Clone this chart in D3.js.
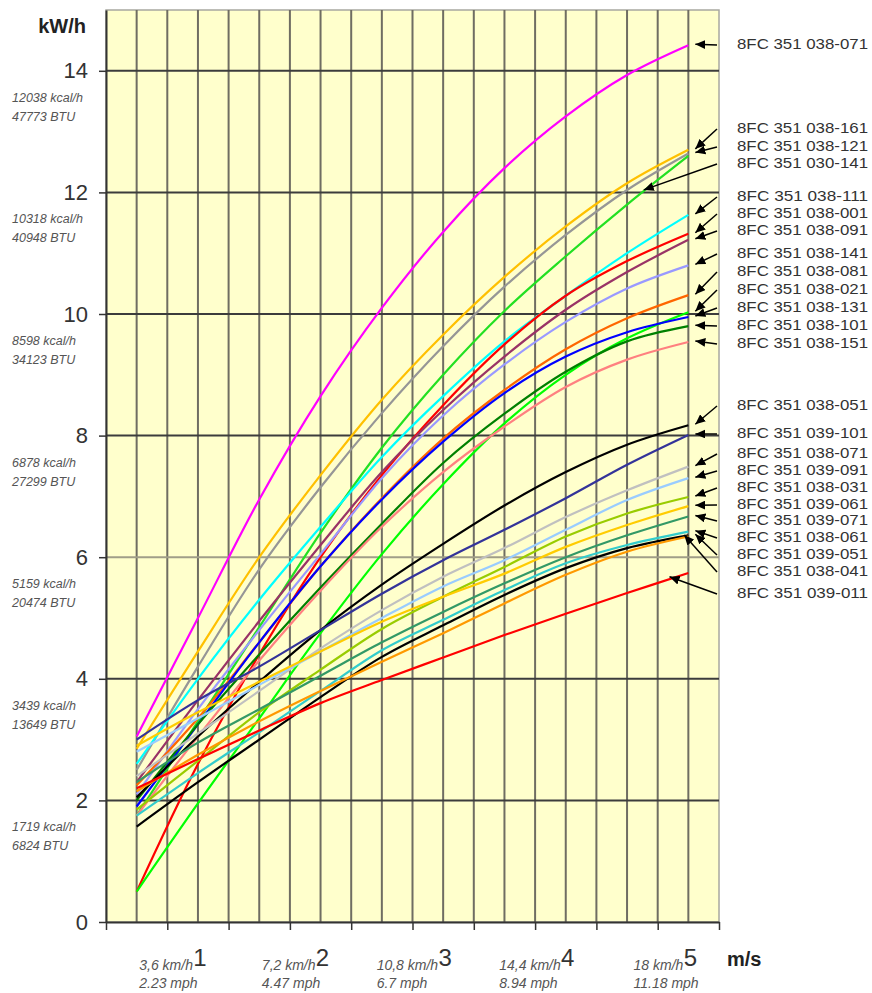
<!DOCTYPE html>
<html>
<head>
<meta charset="utf-8">
<script src="https://cdn.jsdelivr.net/npm/d3@7"></script>
<style>
  body { margin: 0; background: #fff; }
  svg { display: block; font-family: Arial, "Liberation Sans", sans-serif; }
</style>
</head>
<body>
<div id="chart"></div>
<script>
// wind speed (m/s) at which each curve is sampled
const speeds = [0.5, 1, 1.5, 2, 2.5, 3, 3.5, 4, 4.5, 5];

const models = [
  "8FC 351 038-071", "8FC 351 038-161", "8FC 351 038-121", "8FC 351 030-141",
  "8FC 351 038-111", "8FC 351 038-001", "8FC 351 038-091", "8FC 351 038-141",
  "8FC 351 038-081", "8FC 351 038-021", "8FC 351 038-131", "8FC 351 038-101",
  "8FC 351 038-151", "8FC 351 038-051", "8FC 351 039-101", "8FC 351 038-071",
  "8FC 351 039-091", "8FC 351 038-031", "8FC 351 039-061", "8FC 351 039-071",
  "8FC 351 038-061", "8FC 351 039-051", "8FC 351 038-041", "8FC 351 039-011"
];

const colours = [
  "#ff00ff", "#ffc000", "#969696", "#22e022",
  "#00ffff", "#ff0000", "#993366", "#9999ff",
  "#ff6600", "#00ff00", "#0000ff", "#008000",
  "#ff8080", "#000000", "#333399", "#c0c0c0",
  "#99ccff", "#99cc00", "#ffcc00", "#339966",
  "#33cccc", "#000000", "#ff9900", "#ff0000"
];

// kW/h, one row per model, one value per speed
const power = [
  [3.05, 5.0, 6.95, 8.65, 10.1, 11.35, 12.4, 13.25, 13.93, 14.42],
  [2.85, 4.45, 6.0, 7.35, 8.59, 9.66, 10.61, 11.44, 12.15, 12.7],
  [2.5, 4.2, 5.8, 7.15, 8.37, 9.47, 10.45, 11.3, 12.04, 12.64],
  [1.75, 3.3, 4.85, 6.4, 7.8, 9.0, 10.05, 10.95, 11.8, 12.6],
  [2.6, 4.0, 5.3, 6.5, 7.65, 8.65, 9.55, 10.3, 11.0, 11.63],
  [0.5, 2.6, 4.4, 6.0, 7.35, 8.5, 9.5, 10.3, 10.87, 11.32],
  [2.3, 3.65, 4.95, 6.2, 7.4, 8.42, 9.3, 10.07, 10.69, 11.22],
  [2.1, 3.5, 4.8, 6.05, 7.3, 8.33, 9.17, 9.87, 10.42, 10.8],
  [2.25, 3.35, 4.6, 5.85, 6.97, 7.95, 8.75, 9.42, 9.93, 10.31],
  [0.5, 1.95, 3.35, 4.75, 6.05, 7.2, 8.2, 9.0, 9.6, 10.03],
  [1.9, 3.25, 4.6, 5.85, 6.95, 7.9, 8.7, 9.3, 9.7, 9.95],
  [2.0, 3.25, 4.4, 5.5, 6.55, 7.55, 8.36, 9.05, 9.55, 9.8],
  [1.75, 3.05, 4.3, 5.45, 6.5, 7.4, 8.15, 8.8, 9.25, 9.54],
  [2.05, 3.05, 3.95, 4.8, 5.55, 6.22, 6.85, 7.4, 7.85, 8.17],
  [3.0, 3.65, 4.2, 4.8, 5.4, 5.95, 6.45, 6.97, 7.52, 8.01],
  [2.4, 3.1, 3.8, 4.5, 5.13, 5.68, 6.15, 6.66, 7.1, 7.49],
  [2.8, 3.35, 3.9, 4.45, 5.0, 5.52, 5.95, 6.45, 6.94, 7.3],
  [1.85, 2.65, 3.45, 4.15, 4.82, 5.35, 5.84, 6.34, 6.72, 6.99],
  [2.9, 3.45, 3.95, 4.45, 4.94, 5.35, 5.73, 6.17, 6.53, 6.84],
  [2.3, 2.95, 3.5, 4.05, 4.6, 5.1, 5.57, 6.0, 6.36, 6.67],
  [1.75, 2.45, 3.12, 3.8, 4.47, 4.97, 5.46, 5.9, 6.2, 6.42],
  [1.57, 2.3, 3.0, 3.7, 4.36, 4.88, 5.38, 5.82, 6.15, 6.36],
  [2.15, 2.75, 3.3, 3.8, 4.28, 4.75, 5.24, 5.71, 6.09, 6.34],
  [2.2, 2.68, 3.15, 3.6, 3.98, 4.35, 4.72, 5.07, 5.41, 5.74]
];

// speed (m/s) on each curve that its label arrow points at
const arrowAt = [5, 5, 5, 4.62, 5, 5, 5, 5, 5, 5, 5, 5, 5,
                 5, 5, 5, 5, 5, 5, 5, 5, 5, 4.95, 4.83];

const kwTicks = [0, 2, 4, 6, 8, 10, 12, 14];
const kcalLabels = ["", "1719 kcal/h", "3439 kcal/h", "5159 kcal/h", "6878 kcal/h",
                    "8598 kcal/h", "10318 kcal/h", "12038 kcal/h"];
const btuLabels = ["", "6824 BTU", "13649 BTU", "20474 BTU", "27299 BTU",
                   "34123 BTU", "40948 BTU", "47773 BTU"];

const msTicks = [1, 2, 3, 4, 5];
const kmhLabels = ["3,6 km/h", "7,2 km/h", "10,8 km/h", "14,4 km/h", "18 km/h"];
const mphLabels = ["2.23 mph", "4.47 mph", "6.7 mph", "8.94 mph", "11.18 mph"];

// layout: vertical centre of each model label on the right
const labelRows = [44, 128, 146, 163, 196, 213, 230, 253, 271, 289, 307, 325, 343,
                   405, 433, 453, 470, 487, 504, 520, 537, 554, 571, 593];

const width = 872;
const height = 993;
const margin = { top: 10, right: 153, bottom: 71, left: 106 };

const svg = d3.select("#chart")
  .append("svg")
  .attr("width", width)
  .attr("height", height);

const x = d3.scaleLinear().domain([0.25, 5.25]).range([margin.left, width - margin.right]);
const y = d3.scaleLinear().domain([0, 15]).range([height - margin.bottom, margin.top]);

// Plot background
svg.append("rect")
  .attr("x", x(0.25))
  .attr("y", y(15))
  .attr("width", x(5.25) - x(0.25))
  .attr("height", y(0) - y(15))
  .attr("fill", "#ffffcc")
  .attr("stroke", "#a8a8a0")
  .attr("stroke-width", 1.5);

// Grid
svg.append("g")
  .selectAll("line")
  .data(d3.range(0.5, 5.01, 0.25))
  .join("line")
  .attr("x1", (d) => x(d))
  .attr("x2", (d) => x(d))
  .attr("y1", y(15))
  .attr("y2", y(0))
  .attr("stroke", "#6f6d62")
  .attr("stroke-width", 2);

svg.append("g")
  .selectAll("line")
  .data(kwTicks.slice(1))
  .join("line")
  .attr("x1", x(0.25))
  .attr("x2", x(5.25))
  .attr("y1", (d) => y(d))
  .attr("y2", (d) => y(d))
  .attr("stroke", (d) => (d === 6 ? "#a09e88" : "#3c3c3c"))
  .attr("stroke-width", 2);

// Curves
const line = d3.line()
  .x((d) => x(d[0]))
  .y((d) => y(d[1]))
  .curve(d3.curveCatmullRom.alpha(0.5));

svg.append("g")
  .selectAll("path")
  .data(power)
  .join("path")
  .attr("d", (vals) => line(vals.map((v, i) => [speeds[i], v])))
  .attr("fill", "none")
  .attr("stroke", (d, i) => colours[i])
  .attr("stroke-width", 2.2);

// Axes
const yAxis = svg.append("g")
  .attr("transform", `translate(${x(0.25)},0)`)
  .call(d3.axisLeft(y).tickValues(kwTicks).tickSize(7).tickSizeOuter(0).tickPadding(11));
yAxis.select(".domain").attr("stroke", "#333").attr("stroke-width", 2);
yAxis.selectAll(".tick line").attr("stroke", "#333").attr("stroke-width", 1.5);
yAxis.selectAll(".tick text")
  .style("font-family", "Arial, 'Liberation Sans', sans-serif")
  .style("font-size", "22px")
  .attr("fill", "#333");

const xAxis = svg.append("g")
  .attr("transform", `translate(0,${y(0)})`)
  .call(d3.axisBottom(x).tickValues(d3.range(0.25, 5.26, 0.5)).tickSize(8).tickSizeOuter(0).tickFormat(""));
xAxis.select(".domain").attr("stroke", "#333").attr("stroke-width", 2);
xAxis.selectAll(".tick line").attr("stroke", "#333").attr("stroke-width", 1.5);

// kW/h title
svg.append("text")
  .attr("x", 86)
  .attr("y", 33)
  .attr("text-anchor", "end")
  .style("font-size", "20px")
  .style("font-weight", "bold")
  .attr("fill", "#222")
  .text("kW/h");

// kcal / BTU equivalents under the kW ticks
const eq = svg.append("g")
  .style("font-size", "12.5px")
  .style("font-style", "italic")
  .attr("fill", "#555");
kwTicks.forEach((k, i) => {
  if (!kcalLabels[i]) return;
  eq.append("text").attr("x", 12).attr("y", y(k) + 31).text(kcalLabels[i]);
  eq.append("text").attr("x", 12).attr("y", y(k) + 50).text(btuLabels[i]);
});

// Speed labels under the x axis
const sp = svg.append("g");
msTicks.forEach((v, i) => {
  sp.append("text")
    .attr("x", x(v) + 2)
    .attr("y", 966)
    .attr("text-anchor", "middle")
    .style("font-size", "24px")
    .attr("fill", "#333")
    .text(v);
  const kmh = sp.append("text")
    .attr("x", x(v) - 5)
    .attr("y", 970)
    .attr("text-anchor", "end")
    .style("font-size", "14px")
    .style("font-style", "italic")
    .attr("fill", "#555")
    .text(kmhLabels[i]);
  const left = x(v) - 5 - kmh.node().getComputedTextLength();
  sp.append("text")
    .attr("x", left)
    .attr("y", 988)
    .style("font-size", "14px")
    .style("font-style", "italic")
    .attr("fill", "#555")
    .text(mphLabels[i]);
});

svg.append("text")
  .attr("x", 727)
  .attr("y", 966)
  .style("font-size", "20px")
  .style("font-weight", "bold")
  .attr("fill", "#222")
  .text("m/s");

// Model labels with arrows
svg.append("defs")
  .append("marker")
  .attr("id", "head")
  .attr("markerUnits", "userSpaceOnUse")
  .attr("markerWidth", 11)
  .attr("markerHeight", 9)
  .attr("refX", 10)
  .attr("refY", 4.5)
  .attr("orient", "auto")
  .append("path")
  .attr("d", "M0,0 L10,4.5 L0,9 Z")
  .attr("fill", "#000");

const labels = svg.append("g");
models.forEach((name, i) => {
  const ly = labelRows[i];
  labels.append("text")
    .attr("x", 737)
    .attr("y", ly)
    .attr("dy", "0.36em")
    .attr("textLength", 131)
    .attr("lengthAdjust", "spacingAndGlyphs")
    .style("font-size", "15px")
    .attr("fill", "#333")
    .text(name);

  const at = arrowAt[i];
  const val = d3.scaleLinear().domain(speeds).range(power[i])(at);
  const tx = at === 5 ? x(at) + 7 : x(at) + 2;
  const ty = at === 5 ? y(val) - 1 : y(val) - 3;
  labels.append("line")
    .attr("x1", 717)
    .attr("y1", ly + 1)
    .attr("x2", tx)
    .attr("y2", ty)
    .attr("stroke", "#000")
    .attr("stroke-width", 1.5)
    .attr("marker-end", "url(#head)");
});
</script>
</body>
</html>
